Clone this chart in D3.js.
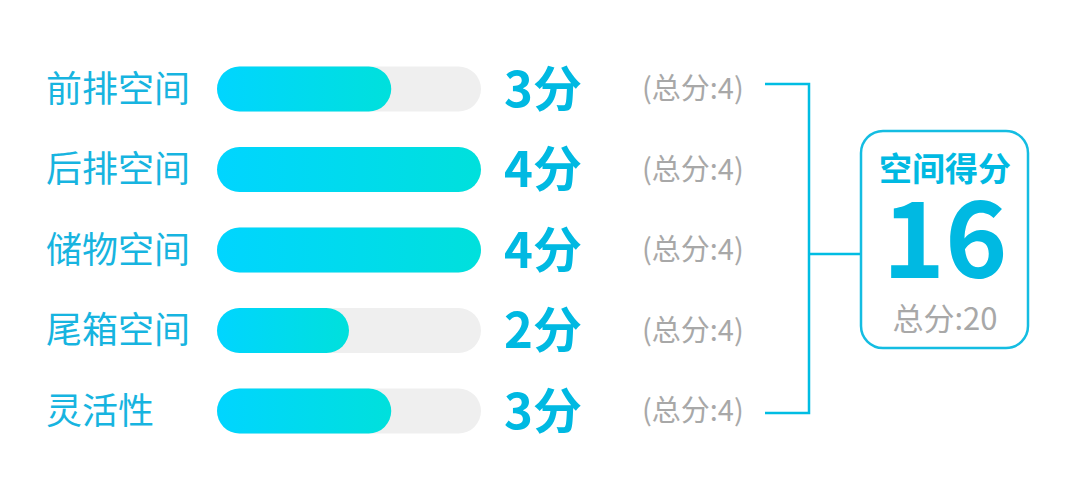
<!DOCTYPE html>
<html><head><meta charset="utf-8">
<script src="https://cdn.jsdelivr.net/npm/d3@7"></script>
<style>html,body{margin:0;padding:0;background:#fff;}svg{display:block;}</style>
</head><body>
<svg id="c" width="1080" height="488"></svg>
<script>
const categories = ["前排空间","后排空间","储物空间","尾箱空间","灵活性"];
const scores = [3,4,4,2,3];
const maxScores = [4,4,4,4,4];
const barFill = [0.66,1,1,0.5,0.66];
const totalTitle = "空间得分";
const totalScore = 16;
const totalMax = 20;

(function(){
const svg = d3.select("#c");
const font = "'Noto Sans CJK SC','Noto Sans',sans-serif";
const y = d3.scalePoint().domain(categories).range([89, 411]);
const x = d3.scaleLinear().domain([0,1]).range([217, 481]);
const bh = 45;

const defs = svg.append("defs");
const g = defs.append("linearGradient").attr("id","grad").attr("x1","0%").attr("x2","100%");
g.append("stop").attr("offset","0%").attr("stop-color","#00d5ff");
g.append("stop").attr("offset","100%").attr("stop-color","#00e0dc");

const rows = svg.selectAll("g.row").data(categories).enter().append("g").attr("class","row");
rows.append("text").attr("x",46).attr("y",d=>y(d)).attr("dy","0.36em")
  .attr("font-family",font).attr("font-size",36).attr("fill","#17b4e0").text(d=>d);
rows.append("rect").attr("x",x(0)).attr("y",d=>y(d)-bh/2).attr("width",x(1)-x(0)).attr("height",bh)
  .attr("rx",bh/2).attr("fill","#efefef");
rows.append("rect").attr("x",x(0)).attr("y",d=>y(d)-bh/2).attr("width",(d,i)=>x(barFill[i])-x(0)).attr("height",bh)
  .attr("rx",bh/2).attr("fill","url(#grad)");
rows.append("text").attr("x",504).attr("y",d=>y(d)).attr("dy","0.36em")
  .attr("font-family",font).attr("font-weight","bold").attr("font-size",49).attr("fill","#00b9e2")
  .text((d,i)=>scores[i]+"分");
rows.append("text").attr("x",642).attr("y",d=>y(d)).attr("dy","0.36em")
  .attr("font-family",font).attr("font-size",29).attr("fill","#a8a8a8")
  .text((d,i)=>"(总分:"+maxScores[i]+")");

// bracket
const lc = "#00bde3";
const yTop = y(categories[0]) - 5, yBot = y(categories[categories.length-1]) + 2;
const bx = 809, mid = 254;
svg.append("path").attr("d",`M765,${yTop}H${bx}V${yBot}H765`).attr("fill","none").attr("stroke",lc).attr("stroke-width",2.5);
svg.append("line").attr("x1",bx).attr("x2",860).attr("y1",mid).attr("y2",mid).attr("stroke",lc).attr("stroke-width",2.5);

// box
svg.append("rect").attr("x",861).attr("y",131).attr("width",167).attr("height",217).attr("rx",22)
  .attr("fill","#fff").attr("stroke","#14bde2").attr("stroke-width",2.5);
const cx = 945;
svg.append("text").attr("x",cx).attr("y",169).attr("dy","0.36em").attr("text-anchor","middle")
  .attr("font-family",font).attr("font-weight","bold").attr("font-size",33).attr("fill","#00b9e2").text(totalTitle);
svg.append("text").attr("x",cx).attr("y",278).attr("text-anchor","middle")
  .attr("font-family",font).attr("font-weight","bold").attr("font-size",106).attr("fill","#00b9e2").text(totalScore);
svg.append("text").attr("x",cx).attr("y",319).attr("dy","0.36em").attr("text-anchor","middle")
  .attr("font-family",font).attr("font-size",31).attr("fill","#a8a8a8").text("总分:"+totalMax);
})();
</script>
</body></html>
